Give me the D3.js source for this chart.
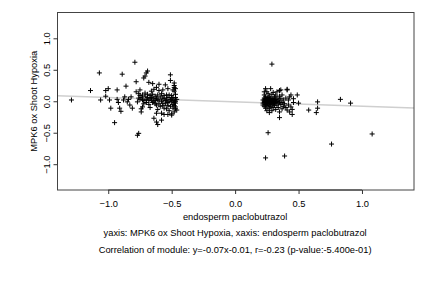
<!DOCTYPE html>
<html>
<head>
<meta charset="utf-8">
<script src="https://cdn.jsdelivr.net/npm/d3@7"></script>
<style>
body { margin: 0; background: #fff; }
text { font-family: "Liberation Sans", Arial, sans-serif; font-size: 9.3px; fill: #000; }
</style>
</head>
<body>
<div id="container"></div>
<script>
// tick values shown on the axes
var xTicks = [-1.0, -0.5, 0.0, 0.5, 1.0];
var yTicks = [-1.0, -0.5, 0.0, 0.5, 1.0];

// fitted line y = slope * x + intercept
var slope = -0.07;
var intercept = -0.01;

var xLabel = "endosperm paclobutrazol";
var yLabel = "MPK6 ox Shoot Hypoxia";
var caption1 = "yaxis: MPK6 ox Shoot Hypoxia, xaxis: endosperm paclobutrazol";
var caption2 = "Correlation of module: y=-0.07x-0.01, r=-0.23 (p-value:-5.400e-01)";

// genes with negative x (left group)
var leftGroup = [
  [-1.29,0.02],[-1.14,0.17],[-1.07,0.45],[-1.06,0.02],[-1.02,0.17],[-1.0,0.20],[-1.02,0.08],[-0.99,0.02],
  [-0.98,-0.11],[-0.95,-0.34],[-0.93,0.18],[-0.93,0.03],[-0.92,-0.02],[-0.91,-0.11],[-0.90,-0.16],[-0.89,0.43],
  [-0.88,0.02],[-0.87,0.07],[-0.86,0.24],[-0.85,-0.01],[-0.84,0.03],[-0.83,-0.06],[-0.82,0.07],[-0.81,-0.11],
  [-0.79,0.62],[-0.78,0.31],[-0.78,0.15],[-0.77,-0.01],[-0.76,0.05],[-0.76,0.12],[-0.75,0.18],[-0.75,0.09],
  [-0.74,-0.12],[-0.74,-0.17],[-0.73,0.02],[-0.73,-0.09],[-0.77,-0.54],[-0.76,-0.51],[-0.72,0.37],[-0.71,0.40],
  [-0.70,0.45],[-0.69,0.48],[-0.68,0.30],[-0.67,0.04],[-0.66,0.02],[-0.66,0.16],[-0.65,0.28],[-0.64,0.19],
  [-0.64,-0.01],[-0.64,-0.27],[-0.63,-0.04],[-0.62,-0.19],[-0.62,0.22],[-0.61,0.10],[-0.61,0.02],[-0.60,0.17],
  [-0.60,0.27],[-0.59,-0.08],[-0.58,-0.19],[-0.58,-0.30],[-0.62,-0.33],[-0.61,-0.37],[-0.57,0.05],[-0.57,-0.03],
  [-0.56,-0.11],[-0.55,0.01],[-0.55,0.26],[-0.54,0.10],[-0.53,-0.02],[-0.53,-0.07],[-0.52,0.10],[-0.51,0.42],
  [-0.51,0.33],[-0.50,0.05],[-0.50,-0.22],[-0.49,-0.05],[-0.49,0.01],[-0.48,0.29],[-0.48,0.22],[-0.48,0.16],
  [-0.48,-0.07],[-0.47,-0.12],[-0.47,0.11],[-0.47,0.06],[-0.47,-0.03],
  [-0.75,0.03],[-0.74,0.06],[-0.73,0.10],[-0.72,0.01],[-0.72,-0.04],[-0.71,0.08],[-0.71,0.13],[-0.70,0.03],
  [-0.70,-0.02],[-0.69,0.06],[-0.69,0.11],[-0.68,-0.05],[-0.68,0.01],[-0.67,0.09],[-0.67,-0.10],[-0.66,0.06],
  [-0.65,-0.02],[-0.65,0.11],[-0.64,0.04],[-0.63,0.08],[-0.63,0.01],[-0.62,-0.06],[-0.62,0.05],[-0.61,-0.13],
  [-0.60,0.02],[-0.60,-0.04],[-0.59,0.07],[-0.58,0.00],[-0.58,0.12],[-0.57,-0.07],[-0.56,0.04],[-0.56,0.09],
  [-0.55,-0.04],[-0.54,0.02],[-0.54,-0.12],[-0.53,0.06],[-0.52,0.00],[-0.52,-0.15],[-0.51,0.03],[-0.51,-0.08],
  [-0.50,0.09],[-0.50,-0.01],[-0.49,0.06],[-0.49,-0.11],[-0.48,0.02],[-0.48,-0.02],[-0.47,0.00],[-0.47,-0.09],
  [-0.46,0.03],[-0.46,-0.14],[-0.48,-0.17],[-0.50,-0.20],[-0.53,-0.21],[-0.56,-0.21],[-0.49,0.18],[-0.47,0.20],
  [-0.48,0.25],[-0.53,0.20],[-0.57,0.18]
];

// genes with positive x (right group)
var rightGroup = [
  [0.22,0.02],[0.22,-0.03],[0.22,-0.06],[0.23,0.05],[0.23,0.00],[0.23,-0.02],[0.23,-0.08],[0.23,0.10],
  [0.24,0.03],[0.24,-0.01],[0.24,-0.05],[0.24,0.07],[0.24,-0.11],[0.24,0.20],[0.25,0.01],[0.25,-0.03],
  [0.25,0.04],[0.25,-0.07],[0.25,-0.15],[0.25,0.15],[0.26,0.00],[0.26,-0.04],[0.26,0.06],[0.26,-0.09],
  [0.26,0.02],[0.27,-0.02],[0.27,0.03],[0.27,-0.06],[0.27,0.08],[0.27,-0.12],[0.27,-0.18],[0.28,0.00],
  [0.28,-0.03],[0.28,0.05],[0.28,0.20],[0.28,-0.08],[0.29,0.02],[0.29,-0.05],[0.29,0.11],[0.29,-0.01],
  [0.29,-0.15],[0.30,0.04],[0.30,-0.03],[0.30,0.00],[0.30,-0.10],[0.30,0.14],[0.31,0.01],[0.31,-0.04],
  [0.31,0.07],[0.31,-0.07],[0.32,0.03],[0.32,-0.02],[0.32,0.10],[0.32,-0.13],[0.33,0.00],[0.33,-0.06],
  [0.33,0.05],[0.33,0.15],[0.34,-0.03],[0.34,0.02],[0.34,-0.10],[0.35,0.08],[0.35,-0.01],[0.35,-0.17],
  [0.35,0.17],[0.36,0.04],[0.36,-0.05],[0.36,0.18],[0.37,-0.02],[0.37,-0.12],[0.37,0.10],[0.38,0.02],
  [0.38,-0.08],[0.39,-0.04],[0.40,0.05],[0.40,-0.10],[0.41,0.19],[0.41,0.18],[0.41,-0.14],[0.42,-0.06],
  [0.42,0.02],[0.43,0.07],[0.43,-0.17],[0.44,-0.09],[0.44,0.10],[0.45,-0.13],[0.45,-0.21],[0.46,0.04],
  [0.46,-0.02],[0.49,0.10],[0.50,-0.03],[0.35,-0.26],[0.23,0.15],[0.26,0.12],[0.24,0.04],[0.25,-0.01],
  [0.26,-0.02],[0.28,0.01],[0.29,0.03],[0.27,0.01],[0.30,0.02],[0.31,-0.02],[0.32,0.00],[0.25,0.00],
  [0.23,0.02],[0.24,0.00]
];

// isolated points
var outliers = [
  [0.29,0.59],[0.26,-0.50],[0.24,-0.90],[0.39,-0.87],[0.58,-0.14],[0.65,-0.01],[0.65,-0.11],[0.64,-0.18],
  [0.83,0.03],[0.91,-0.03],[0.76,-0.68],[1.08,-0.52]
];

var svgAttr = { width: 432, height: 288 };
var plot = { left: 57.5, right: 414, top: 12.5, bottom: 190 };

var svg = d3.select("#container").append("svg")
    .attr("width", svgAttr.width).attr("height", svgAttr.height);

var x = d3.scaleLinear().domain([-1.4, 1.41]).range([plot.left, plot.right]);
var y = d3.scaleLinear().domain([-1.41, 1.41]).range([plot.bottom, plot.top]);

// regression line, clipped to the plot box
svg.append("clipPath").attr("id", "box").append("rect")
    .attr("x", plot.left).attr("y", plot.top)
    .attr("width", plot.right - plot.left).attr("height", plot.bottom - plot.top);

var xs = x.domain();
svg.append("line")
    .attr("clip-path", "url(#box)")
    .attr("x1", x(xs[0])).attr("y1", y(slope * xs[0] + intercept))
    .attr("x2", x(xs[1])).attr("y2", y(slope * xs[1] + intercept))
    .attr("stroke", "#cfcfcf").attr("stroke-width", 1.5);

// points as plus signs
var allPoints = leftGroup.concat(rightGroup, outliers);
svg.append("g").selectAll("path")
    .data(allPoints)
    .enter().append("path")
    .attr("d", function (d) {
        var cx = x(d[0]), cy = y(d[1]), r = 2.5;
        return "M" + (cx - r) + "," + cy + "H" + (cx + r) + "M" + cx + "," + (cy - r) + "V" + (cy + r);
    })
    .attr("stroke", "#000").attr("stroke-width", 1).attr("fill", "none");

// box
svg.append("rect")
    .attr("x", plot.left).attr("y", plot.top)
    .attr("width", plot.right - plot.left).attr("height", plot.bottom - plot.top)
    .attr("fill", "none").attr("stroke", "#444").attr("stroke-width", 1);

// x axis
var xAxis = d3.axisBottom(x).tickValues(xTicks).tickSize(4).tickPadding(5)
    .tickFormat(d3.format(".1f"));
var gx = svg.append("g").attr("transform", "translate(0," + plot.bottom + ")").call(xAxis);
gx.select(".domain").attr("d", "M" + x(xTicks[0]) + ",0H" + x(xTicks[xTicks.length - 1]));
gx.selectAll("text").attr("font-family", null).attr("font-size", null).attr("dy", "0.85em");

// y axis with rotated labels
var yAxis = d3.axisLeft(y).tickValues(yTicks).tickSize(4).tickFormat(d3.format(".1f"));
var gy = svg.append("g").attr("transform", "translate(" + plot.left + ",0)").call(yAxis);
gy.select(".domain").attr("d", "M0," + y(yTicks[0]) + "V" + y(yTicks[yTicks.length - 1]));
gy.selectAll(".tick text")
    .attr("font-family", null).attr("font-size", null)
    .attr("x", null).attr("dy", null)
    .attr("text-anchor", "middle")
    .attr("transform", "translate(-11,0) rotate(-90)")
    .attr("dy", "0.35em");
svg.selectAll(".domain, .tick line").attr("stroke", "#333");

// titles
svg.append("text").attr("x", x(0)).attr("y", 217).attr("dy", "0.35em")
    .attr("text-anchor", "middle").text(xLabel);
svg.append("text").attr("transform", "translate(34," + y(0) + ") rotate(-90)")
    .attr("dy", "0.35em").attr("text-anchor", "middle").text(yLabel);
svg.append("text").attr("x", x(0)).attr("y", 232.5).attr("dy", "0.35em")
    .attr("text-anchor", "middle").text(caption1);
svg.append("text").attr("x", x(0)).attr("y", 250).attr("dy", "0.35em")
    .attr("text-anchor", "middle").text(caption2);
</script>
</body>
</html>
